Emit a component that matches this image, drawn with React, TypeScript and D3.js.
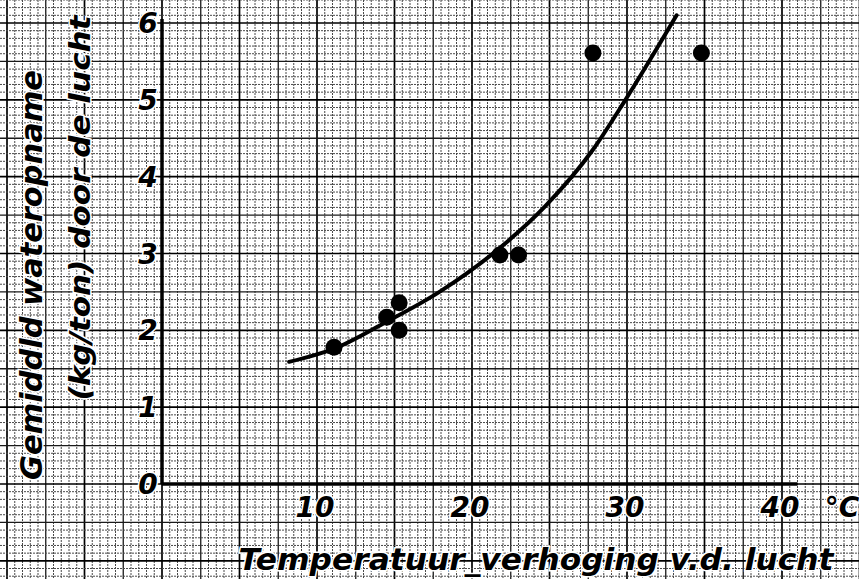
import React from "react";
import * as d3 from "d3";

const width = 859;
const height = 579;

// measured points (temperature rise °C, mean water uptake kg/ton)
const pointTemp = [11.1, 14.5, 15.3, 15.3, 21.8, 23.0, 27.8, 34.8];
const pointUptake = [1.78, 2.17, 2.36, 2.0, 2.98, 2.98, 5.61, 5.61];

// hand-drawn fitted curve
const curveTemp = [8.2, 11.2, 14.2, 17.9, 21.9, 24.7, 27.8, 29.9, 33.2];
const curveUptake = [1.59, 1.77, 2.08, 2.5, 3.09, 3.61, 4.35, 5.0, 6.1];

const xTicks = [10, 20, 30, 40];
const yTicks = [0, 1, 2, 3, 4, 5, 6];

const xLabel = "Temperatuur_verhoging v.d. lucht";
const yLabel1 = "Gemiddld wateropname";
const yLabel2 = "(kg/ton) door de lucht";

const x = d3.scaleLinear().domain([0, 40]).range([162, 782]);
const y = d3.scaleLinear().domain([0, 6]).range([484, 23]);

const font = "'DejaVu Sans', sans-serif";

const App = () => {
  // graph paper: 1 mm lines, darker every 5 mm, darkest every cm
  const xMin = Math.floor(x.invert(0) * 2) / 2;
  const xMax = x.invert(width);
  const yMin = Math.floor(y.invert(height) * 10) / 10;
  const yMax = y.invert(0);

  const vLines = d3.range(Math.round(xMin * 2), Math.round(xMax * 2) + 1).map(k => k / 2);
  const hLines = d3.range(Math.round(yMin * 10), Math.round(yMax * 10) + 1).map(k => k / 10);

  const vStyle = (v: number) => {
    const k = Math.round(v * 2);
    if (k % 10 === 0) return { stroke: "#000", w: 1.7 };
    if (k % 5 === 0) return { stroke: "#1a1a1a", w: 1.3 };
    return { stroke: "#4a4a4a", w: 1 };
  };
  const hStyle = (v: number) => {
    const k = Math.round(v * 10);
    if (k % 10 === 0) return { stroke: "#000", w: 1.7 };
    if (k % 5 === 0) return { stroke: "#1a1a1a", w: 1.3 };
    return { stroke: "#4a4a4a", w: 1 };
  };

  const curve = d3
    .line<number>()
    .x((d, i) => x(curveTemp[i]))
    .y((d, i) => y(curveUptake[i]))
    .curve(d3.curveMonotoneX);

  return (
    <svg
      width={width}
      height={height}
      style={{ position: "absolute", left: 0, top: 0, background: "#fff" }}
    >
      <rect width={width} height={height} fill="#fff" />
      <g>
        {vLines.map(v => {
          const s = vStyle(v);
          return (
            <line
              key={"v" + v}
              x1={x(v)}
              x2={x(v)}
              y1={0}
              y2={height}
              stroke={s.stroke}
              strokeWidth={s.w}
              strokeDasharray={s.w === 1 ? "2,1" : undefined}
            />
          );
        })}
        {hLines.map(v => {
          const s = hStyle(v);
          return (
            <line
              key={"h" + v}
              x1={0}
              x2={width}
              y1={y(v)}
              y2={y(v)}
              stroke={s.stroke}
              strokeWidth={s.w}
              strokeDasharray={s.w === 1 ? "2,1" : undefined}
            />
          );
        })}
      </g>

      {/* axes */}
      <line x1={x(0)} x2={x(0)} y1={y(6) - 4} y2={y(0)} stroke="#000" strokeWidth={3.5} />
      <line x1={x(0)} x2={x(41)} y1={y(0)} y2={y(0)} stroke="#000" strokeWidth={3.5} />

      {/* tick labels */}
      <g fontFamily={font} fontStyle="italic" fontWeight="bold" fontSize={28} fill="#000">
        {yTicks.map(t => (
          <text
            key={"yt" + t}
            x={x(0) - 14}
            y={y(t)}
            dy="0.36em"
            textAnchor="middle"
            stroke="#fff"
            strokeWidth={3}
            paintOrder="stroke"
          >
            {t}
          </text>
        ))}
        {xTicks.map(t => (
          <text
            key={"xt" + t}
            x={x(t) - 2}
            y={517}
            textAnchor="middle"
            stroke="#fff"
            strokeWidth={3}
            paintOrder="stroke"
          >
            {t}
          </text>
        ))}
        <text x={842} y={517} textAnchor="middle" stroke="#fff" strokeWidth={3} paintOrder="stroke">
          °C
        </text>
      </g>

      {/* axis titles */}
      <g fontFamily={font} fontStyle="italic" fontWeight="bold" fill="#000" stroke="#fff" strokeWidth={3} paintOrder="stroke">
        <text x={536} y={570} fontSize={31} textAnchor="middle" textLength={595} lengthAdjust="spacingAndGlyphs">
          {xLabel}
        </text>
        <text
          transform={`translate(42, 275) rotate(-90)`}
          fontSize={31}
          textAnchor="middle"
          textLength={410}
          lengthAdjust="spacingAndGlyphs"
        >
          {yLabel1}
        </text>
        <text
          transform={`translate(90, 208) rotate(-90)`}
          fontSize={29}
          textAnchor="middle"
          textLength={385}
          lengthAdjust="spacingAndGlyphs"
        >
          {yLabel2}
        </text>
      </g>

      {/* fitted curve */}
      <path d={curve(curveTemp) || ""} fill="none" stroke="#000" strokeWidth={4} strokeLinecap="round" />

      {/* measured points */}
      {pointTemp.map((t, i) => (
        <circle key={"p" + i} cx={x(t)} cy={y(pointUptake[i])} r={8.5} fill="#000" />
      ))}
    </svg>
  );
};

export default App;
